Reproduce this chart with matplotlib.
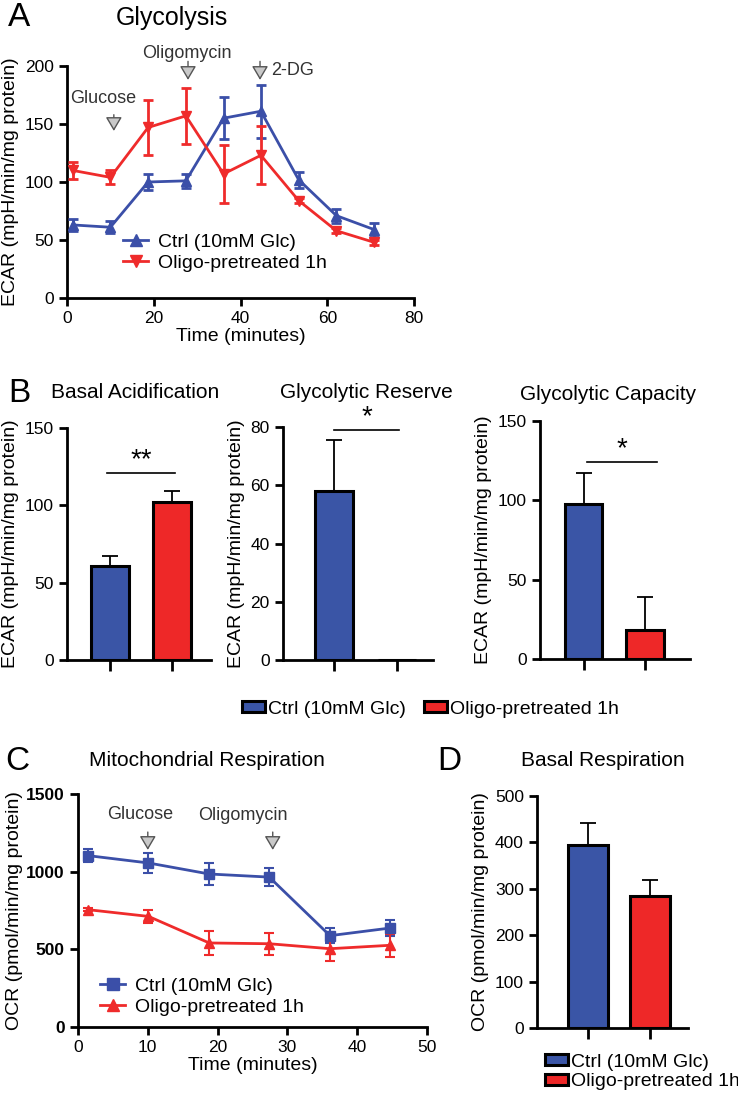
import matplotlib
matplotlib.use("Agg")
import matplotlib.pyplot as plt
from matplotlib.patches import Patch
from matplotlib.lines import Line2D
import numpy as np

plt.rcParams['font.family'] = ['Liberation Sans', 'DejaVu Sans']

# ---------------- data ----------------
groups = ["Ctrl (10mM Glc)", "Oligo-pretreated 1h"]

ecar_time = [1.3, 10.0, 18.7, 27.4, 36.1, 44.7, 53.4, 62.1, 70.8]
ecar_ctrl = [63, 61, 100, 101, 155, 161, 102, 71, 59]
ecar_ctrl_err = [5, 5, 7, 6, 18, 23, 7, 6, 6]
ecar_oligo = [110, 104, 147, 157, 107, 123, 84, 58, 48]
ecar_oligo_err = [7, 6, 24, 24, 25, 25, 2, 2, 2]

basal_acid = [61, 102]
basal_acid_err = [6, 7]
gly_reserve = [58, 0]
gly_reserve_err = [17.5, 0]
gly_capacity = [98, 18]
gly_capacity_err = [19, 21]

ocr_time = [1.5, 10.1, 18.8, 27.4, 36.1, 44.7]
ocr_ctrl = [1103, 1056, 985, 965, 588, 637]
ocr_ctrl_err = [43, 64, 70, 58, 48, 49]
ocr_oligo = [755, 712, 541, 536, 504, 526]
ocr_oligo_err = [10, 43, 75, 72, 78, 75]

basal_resp = [394, 285]
basal_resp_err = [48, 35]

BLUE_L = '#3B4FA8'
RED_L = '#EF2B2B'
BLUE_B = '#3A55A6'
RED_B = '#EE2828'
ARROW_FC = '#C9C9C9'
ANN_C = '#333333'

W, H = 738, 1097
fig = plt.figure(figsize=(W/100, H/100), dpi=100)

def ax_at(l, r, t, b):
    return fig.add_axes([l/W, 1-b/H, (r-l)/W, (b-t)/H])

def style(ax, tick_fs=12.5):
    for s in ['top', 'right']:
        ax.spines[s].set_visible(False)
    for s in ['left', 'bottom']:
        ax.spines[s].set_linewidth(2)
    ax.tick_params(width=2, length=6, labelsize=tick_fs, direction='out')

def arrow(ax, x, y0, y1):
    ax.annotate('', xy=(x, y1), xytext=(x, y0), annotation_clip=False,
                arrowprops=dict(arrowstyle='-|>,head_length=0.85,head_width=0.5',
                                fc=ARROW_FC, ec='#555555', lw=1.0,
                                mutation_scale=10, shrinkA=0, shrinkB=0))

def line_handles(m1, m2):
    return [Line2D([], [], color=BLUE_L, marker=m1, ms=8, lw=2),
            Line2D([], [], color=RED_L, marker=m2, ms=8, lw=2)]

# ---------------- Panel A ----------------
axA = ax_at(67, 414, 66, 298)
style(axA)
axA.errorbar(ecar_time, ecar_ctrl, yerr=ecar_ctrl_err, color=BLUE_L, marker='^',
             ms=7, lw=2, capsize=3.5, capthick=2, elinewidth=2, zorder=3)
axA.errorbar(ecar_time, ecar_oligo, yerr=ecar_oligo_err, color=RED_L, marker='v',
             ms=7, lw=2, capsize=3.5, capthick=2, elinewidth=2, zorder=3)
axA.set_xlim(0, 80)
axA.set_ylim(0, 200)
axA.set_xticks([0, 20, 40, 60, 80])
axA.set_yticks([0, 50, 100, 150, 200])
axA.set_xlabel('Time (minutes)', fontsize=14, labelpad=1)
axA.set_ylabel('ECAR (mpH/min/mg protein)', fontsize=14, labelpad=4)
axA.text(8.3, 172, 'Glucose', fontsize=13, color=ANN_C, ha='center', va='center')
arrow(axA, 10.8, 158, 144)
axA.text(27.6, 211, 'Oligomycin', fontsize=13, color=ANN_C, ha='center', va='center',
         clip_on=False)
arrow(axA, 27.9, 204, 188)
arrow(axA, 44.5, 204, 188)
axA.text(47.0, 196.5, '2-DG', fontsize=13, color=ANN_C, ha='left', va='center',
         clip_on=False)
axA.legend(line_handles('^', 'v'), groups, loc='center left',
           bbox_to_anchor=(123/W, 1-252.5/H),
           bbox_transform=fig.transFigure, frameon=False, fontsize=14,
           handlelength=1.3, handletextpad=0.5, labelspacing=0.15,
           borderpad=0, borderaxespad=0)
fig.text(8/W, 1-18/H, 'A', fontsize=24, ha='left', va='center')
fig.text(172/W, 1-18/H, 'Glycolysis', fontsize=18, ha='center', va='center')

# ---------------- Panel B ----------------
def bar_panel(ax, vals, errs, ylim, yticks, xlim, sig=None):
    style(ax)
    x = np.arange(len(vals))
    ax.bar(x, vals, width=0.61, color=[BLUE_B, RED_B], edgecolor='black',
           linewidth=2.2, zorder=2)
    for xi, v, e in zip(x, vals, errs):
        if e > 0:
            ax.errorbar([xi], [v], yerr=[[0], [e]], fmt='none', ecolor='black',
                        elinewidth=1.3, capsize=6, capthick=1.3, zorder=1)
    ax.set_xlim(*xlim)
    ax.set_ylim(*ylim)
    ax.set_yticks(yticks)
    ax.set_xticks(x)
    ax.set_xticklabels([])
    ax.tick_params(axis='x', length=8)
    ax.set_ylabel('ECAR (mpH/min/mg protein)', fontsize=14, labelpad=4)
    if sig is not None:
        x0, x1, y, s = sig
        ax.plot([x0, x1], [y, y], color='black', lw=1.2, clip_on=False)
        ax.text((x0+x1)/2, y, s, fontsize=20, ha='center', va='bottom', clip_on=False)
    return ax

axB1 = ax_at(67, 211, 428, 660)
bar_panel(axB1, basal_acid, basal_acid_err, (0, 150), [0, 50, 100, 150], (-0.69, 1.63),
          sig=(-0.05, 1.05, 121, '**'))
axB2 = ax_at(283, 433, 427, 660)
bar_panel(axB2, gly_reserve, gly_reserve_err, (0, 80), [0, 20, 40, 60, 80], (-0.81, 1.57),
          sig=(0.0, 1.03, 79, '*'))
axB3 = ax_at(540, 690, 421, 659)
bar_panel(axB3, gly_capacity, gly_capacity_err, (0, 150), [0, 50, 100, 150], (-0.71, 1.73),
          sig=(0.06, 1.2, 124, '*'))

fig.text(8/W, 1-393/H, 'B', fontsize=24, ha='left', va='center')
fig.text(135/W, 1-392/H, 'Basal Acidification', fontsize=15, ha='center', va='center')
fig.text(366/W, 1-392/H, 'Glycolytic Reserve', fontsize=15, ha='center', va='center')
fig.text(608/W, 1-395/H, 'Glycolytic Capacity', fontsize=15, ha='center', va='center')

bar_handles = [Patch(facecolor=BLUE_B, edgecolor='black', linewidth=2.2),
               Patch(facecolor=RED_B, edgecolor='black', linewidth=2.2)]
fig.legend(bar_handles, groups, loc='center left', bbox_to_anchor=(242/W, 1-709/H),
           frameon=False, fontsize=14, ncol=2, handlelength=1.2, handleheight=0.5,
           handletextpad=0.15, columnspacing=0.9, borderpad=0, borderaxespad=0)

# ---------------- Panel C ----------------
axC = ax_at(78, 427, 794, 1027)
style(axC)
axC.errorbar(ocr_time, ocr_ctrl, yerr=ocr_ctrl_err, color=BLUE_L, marker='s',
             ms=7, lw=2, capsize=3.5, capthick=1.5, elinewidth=1.5, zorder=3)
axC.errorbar(ocr_time, ocr_oligo, yerr=ocr_oligo_err, color=RED_L, marker='^',
             ms=7, lw=2, capsize=3.5, capthick=1.5, elinewidth=1.5, zorder=3)
axC.set_xlim(0, 50)
axC.set_ylim(0, 1500)
axC.set_xticks([0, 10, 20, 30, 40, 50])
axC.set_yticks([0, 500, 1000, 1500])
for lab in axC.get_yticklabels():
    lab.set_fontweight('bold')
axC.set_xlabel('Time (minutes)', fontsize=14, labelpad=1)
axC.set_ylabel('OCR (pmol/min/mg protein)', fontsize=14, labelpad=2)
axC.text(8.9, 1371, 'Glucose', fontsize=13, color=ANN_C, ha='center', va='center')
arrow(axC, 10.0, 1255, 1140)
axC.text(23.6, 1359, 'Oligomycin', fontsize=13, color=ANN_C, ha='center', va='center')
arrow(axC, 27.9, 1255, 1140)
axC.legend(line_handles('s', '^'), groups, loc='center left',
           bbox_to_anchor=(100/W, 1-996.5/H),
           bbox_transform=fig.transFigure, frameon=False, fontsize=14,
           handlelength=1.3, handletextpad=0.5, labelspacing=0.15,
           borderpad=0, borderaxespad=0)
fig.text(5/W, 1-761/H, 'C', fontsize=24, ha='left', va='center')
fig.text(207/W, 1-761/H, 'Mitochondrial Respiration', fontsize=15, ha='center', va='center')

# ---------------- Panel D ----------------
axD = ax_at(537, 688, 796, 1028)
style(axD)
xd = np.arange(2)
axD.bar(xd, basal_resp, width=0.64, color=[BLUE_B, RED_B], edgecolor='black',
        linewidth=2.2, zorder=2)
for xi, v, e in zip(xd, basal_resp, basal_resp_err):
    axD.errorbar([xi], [v], yerr=[[0], [e]], fmt='none', ecolor='black',
                 elinewidth=1.3, capsize=6, capthick=1.3, zorder=1)
axD.set_xlim(-0.82, 1.61)
axD.set_ylim(0, 500)
axD.set_yticks([0, 100, 200, 300, 400, 500])
axD.set_xticks(xd)
axD.set_xticklabels([])
axD.tick_params(axis='x', length=8)
axD.set_ylabel('OCR (pmol/min/mg protein)', fontsize=14, labelpad=4)
fig.text(437/W, 1-761/H, 'D', fontsize=24, ha='left', va='center')
fig.text(603/W, 1-761/H, 'Basal Respiration', fontsize=15, ha='center', va='center')
fig.legend(bar_handles, groups, loc='center left', bbox_to_anchor=(545/W, 1-1072/H),
           frameon=False, fontsize=14, ncol=1, handlelength=1.2, handleheight=0.5,
           handletextpad=0.15, labelspacing=0.15, borderpad=0, borderaxespad=0)

fig.savefig('out.png', dpi=100)
